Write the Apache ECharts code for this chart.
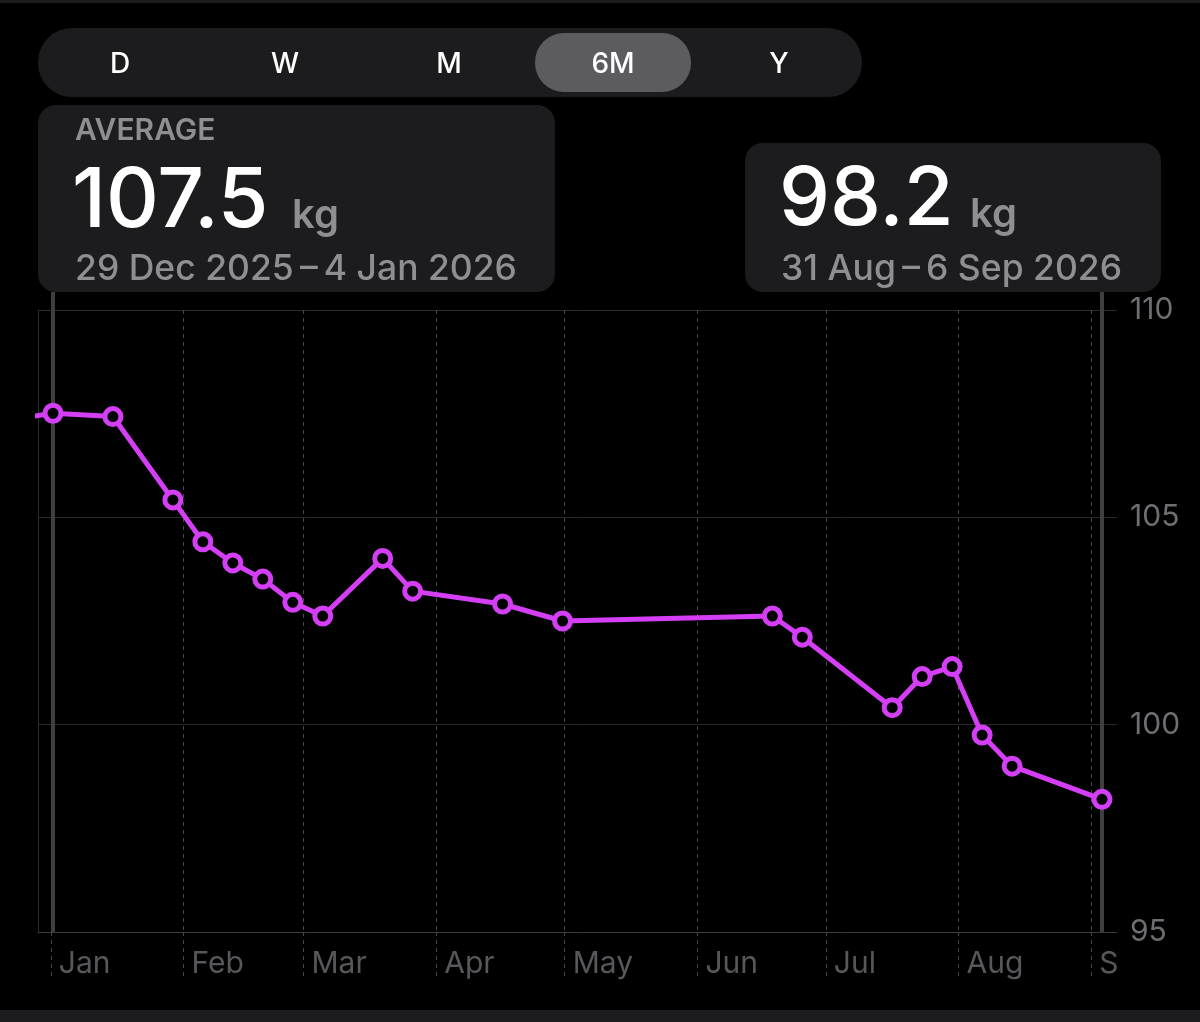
<!DOCTYPE html>
<html>
<head>
<meta charset="utf-8">
<script src="https://cdn.jsdelivr.net/npm/echarts@6/dist/echarts.min.js"></script>
<style>
html,body{margin:0;padding:0;background:#000;}
#c{width:1200px;height:1022px;}
</style>
</head>
<body>
<div id="c"></div>
<script>
// ---- data ----
const weekDates = ['2025-12-25','2026-01-01','2026-01-15','2026-01-29','2026-02-05','2026-02-12','2026-02-19','2026-02-26','2026-03-05','2026-03-19','2026-03-26','2026-04-16','2026-04-30','2026-06-18','2026-06-25','2026-07-16','2026-07-23','2026-07-30','2026-08-06','2026-08-13','2026-09-03'];
const weights = [107.4, 107.51, 107.43, 105.42, 104.41, 103.9, 103.51, 102.95, 102.62, 104.01, 103.22, 102.91, 102.5, 102.62, 102.11, 100.41, 101.16, 101.4, 99.75, 99.0, 98.2];
const monthTicks = ['2026-01-01','2026-02-01','2026-03-01','2026-04-01','2026-05-01','2026-06-01','2026-07-01','2026-08-01','2026-09-01'];
const monthLabels = ['Jan','Feb','Mar','Apr','May','Jun','Jul','Aug','S'];
const yTicks = [95, 100, 105, 110];
const rangeStart = '2025-12-29';
const rangeEnd = '2026-09-07';
const segments = ['D','W','M','6M','Y'];
const selectedSegment = '6M';
const leftCallout = {title:'AVERAGE', value:'107.5', unit:'kg', dates:'29 Dec 2025\u2009\u2013\u20094 Jan 2026'};
const rightCallout = {value:'98.2', unit:'kg', dates:'31 Aug\u2009\u2013\u20096 Sep 2026'};
const selectedIdx = [1, weights.length - 1];

// ---- helpers ----
function ts(s, h){ const p = s.split('-').map(Number); return Date.UTC(p[0], p[1]-1, p[2], h||0); }
const seriesData = weekDates.map((d,i)=>[ts(d,12), weights[i]]);
const tickVals = monthTicks.map(d=>ts(d));
const FONT = 'Inter, "Noto Sans", sans-serif';
const MAGENTA = '#d43ef4';

const chart = echarts.init(document.getElementById('c'), null, {renderer:'canvas'});
chart.setOption({
  backgroundColor:'#000',
  animation:false,
  grid:{left:38, right:83, top:310, bottom:90, containLabel:false},
  xAxis:{
    type:'value',
    min: ts(rangeStart), max: ts(rangeEnd),
    axisLine:{show:true, lineStyle:{color:'#3a3a3c', width:1}},
    axisTick:{show:true, customValues: tickVals, length:48, lineStyle:{color:'#48484a', type:[4,4], width:1}},
    splitLine:{show:true, lineStyle:{color:'#48484a', type:[4,4], width:1}},
    axisLabel:{
      customValues: tickVals,
      align:'left', padding:[0,0,0,8], margin:17,
      color:'#58585c', fontSize:30, fontFamily:FONT, hideOverlap:false,
      formatter:function(v){ const i = tickVals.indexOf(v); return i>=0 ? monthLabels[i] : ''; }
    }
  },
  yAxis:[{
    type:'value', position:'right', min:yTicks[0], max:yTicks[yTicks.length-1], interval:5,
    axisLine:{show:false}, axisTick:{show:false},
    axisLabel:{margin:13, color:'#6e6e73', fontSize:30, fontFamily:FONT, lineHeight:34, padding:[3,0,0,0]},
    splitLine:{show:true, lineStyle:{color:'#2a2a2c', width:1}}
  },{
    type:'value', position:'left', min:yTicks[0], max:yTicks[yTicks.length-1], interval:5,
    axisLine:{show:true, lineStyle:{color:'#2a2a2c', width:1}}, axisTick:{show:false},
    axisLabel:{show:false}, splitLine:{show:false}
  }],
  series:[{
    type:'line', data:seriesData, clip:true, z:3,
    symbol:'circle', symbolSize:16, showAllSymbol:true,
    lineStyle:{color:MAGENTA, width:5},
    itemStyle:{color:'#000', borderColor:MAGENTA, borderWidth:5}
  }]
});

// selection indicator lines placed via the chart's scales
const yTop = 292;
const yBottom = chart.convertToPixel({yAxisIndex:0}, yTicks[0]);
const selLines = selectedIdx.map(i=>{
  const x = chart.convertToPixel({xAxisIndex:0}, seriesData[i][0]);
  return {type:'line', z:1, shape:{x1:x, y1:yTop, x2:x, y2:yBottom}, style:{stroke:'#3f3f42', lineWidth:4}};
});

// header segmented control
const segCenters = [120, 285, 449, 613, 779];
const g = [
  {type:'rect', z:5, shape:{x:0, y:0, width:1200, height:3}, style:{fill:'#1c1c1e'}},
  {type:'rect', z:5, shape:{x:0, y:1010, width:1200, height:12}, style:{fill:'#1c1c1e'}},
  {type:'rect', z:5, shape:{x:38, y:28, width:824, height:69, r:34}, style:{fill:'#1c1c1e'}},
  {type:'rect', z:6, shape:{x:535, y:33, width:156, height:59, r:29}, style:{fill:'#5c5c60'}}
];
segments.forEach((s,i)=>{
  g.push({type:'text', z:7, style:{x:segCenters[i], y:65, text:s, fill:'#fff', font:'500 28px '+FONT, align:'center', verticalAlign:'middle'}});
});
// left callout
g.push({type:'rect', z:5, shape:{x:38, y:105, width:517, height:187, r:18}, style:{fill:'#1c1c1e'}});
g.push({type:'text', z:7, style:{x:75, y:131, text:leftCallout.title, fill:'#8e8e93', font:'600 30px '+FONT, align:'left', verticalAlign:'middle'}});
g.push({type:'text', z:7, style:{x:72, y:202, text:leftCallout.value, fill:'#fff', font:'500 82px '+FONT, align:'left', verticalAlign:'middle'}});
g.push({type:'text', z:7, style:{x:292, y:216, text:leftCallout.unit, fill:'#8e8e93', font:'600 40px '+FONT, align:'left', verticalAlign:'middle'}});
g.push({type:'text', z:7, style:{x:75, y:269, text:leftCallout.dates, fill:'#8e8e93', font:'500 35.5px '+FONT, align:'left', verticalAlign:'middle'}});
// right callout
g.push({type:'rect', z:5, shape:{x:745, y:143, width:416, height:149, r:18}, style:{fill:'#1c1c1e'}});
g.push({type:'text', z:7, style:{x:779, y:201, text:rightCallout.value, fill:'#fff', font:'500 81px '+FONT, align:'left', verticalAlign:'middle'}});
g.push({type:'text', z:7, style:{x:970, y:215, text:rightCallout.unit, fill:'#8e8e93', font:'600 40px '+FONT, align:'left', verticalAlign:'middle'}});
g.push({type:'text', z:7, style:{x:781, y:269, text:rightCallout.dates, fill:'#8e8e93', font:'500 35.5px '+FONT, align:'left', verticalAlign:'middle'}});

chart.setOption({graphic: selLines.concat(g)});
</script>
</body>
</html>
